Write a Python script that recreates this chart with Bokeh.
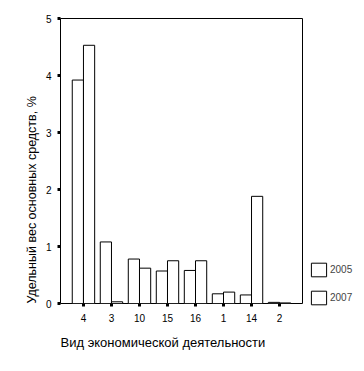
from bokeh.plotting import figure
from bokeh.models import Range1d, FixedTicker, Title, Legend, LegendItem, ColumnDataSource
from bokeh.embed import file_html
from bokeh.resources import INLINE

categories = ["4", "3", "10", "15", "16", "1", "14", "2"]
v2005 = [3.92, 1.08, 0.78, 0.57, 0.58, 0.17, 0.15, 0.02]
v2007 = [4.53, 0.03, 0.62, 0.75, 0.75, 0.20, 1.88, 0.01]
years = ["2005", "2007"]
y_ticks = [0, 1, 2, 3, 4, 5]
x_title = "Вид экономической деятельности"
y_title = "Удельный вес основных средств, %"

FONT = "Liberation Sans"
idx = list(range(len(categories)))

p = figure(width=364, height=371, output_backend="svg", toolbar_location=None,
           x_range=Range1d(-0.82, len(categories) - 1 + 0.82),
           y_range=Range1d(0, 5),
           frame_width=242, frame_height=285,
           min_border_left=60, min_border_right=62, min_border_top=18, min_border_bottom=68,
           background_fill_color="white", border_fill_color="white")

src = ColumnDataSource(dict(x=idx,
                            x05=[i - 0.2 for i in idx],
                            x07=[i + 0.2 for i in idx],
                            v05=v2005, v07=v2007))

r1 = p.vbar(x="x05", top="v05", width=0.4, bottom=0, source=src,
            fill_color="white", line_color="black", line_width=1)
r2 = p.vbar(x="x07", top="v07", width=0.4, bottom=0, source=src,
            fill_color="white", line_color="black", line_width=1)

p.xgrid.visible = False
p.ygrid.visible = False
p.outline_line_color = "black"
p.outline_line_width = 1

for ax in (p.xaxis[0], p.yaxis[0]):
    ax.axis_line_color = None
    ax.major_tick_line_color = "black"
    ax.major_tick_line_width = 3
    ax.major_tick_out = 3
    ax.major_tick_in = 0
    ax.minor_tick_line_color = None
    ax.major_label_text_font = FONT
    ax.major_label_text_font_size = "10px"
    ax.major_label_text_color = "black"

p.xaxis[0].ticker = FixedTicker(ticks=idx)
p.xaxis[0].major_label_overrides = {i: c for i, c in zip(idx, categories)}
p.xaxis[0].major_label_standoff = 7
p.yaxis[0].ticker = FixedTicker(ticks=y_ticks)
p.yaxis[0].major_label_standoff = 6

tx = Title(text=x_title, align="left", text_font=FONT, text_font_size="13px",
           text_font_style="normal", text_color="black", standoff=16)
p.add_layout(tx, "below")
ty = Title(text=y_title, align="left", text_font=FONT, text_font_size="12.5px",
           text_font_style="normal", text_color="black", standoff=8)
p.add_layout(ty, "left")

legend = Legend(items=[LegendItem(label=years[0], renderers=[r1]),
                       LegendItem(label=years[1], renderers=[r2])],
                location=(7, -3), orientation="vertical",
                glyph_width=19, glyph_height=17, label_height=17, spacing=11,
                label_standoff=2, padding=0, margin=0,
                label_text_font=FONT, label_text_font_size="10px",
                border_line_color=None, background_fill_color=None)
p.add_layout(legend, "right")

open("out.html", "w").write(file_html(p, INLINE))
